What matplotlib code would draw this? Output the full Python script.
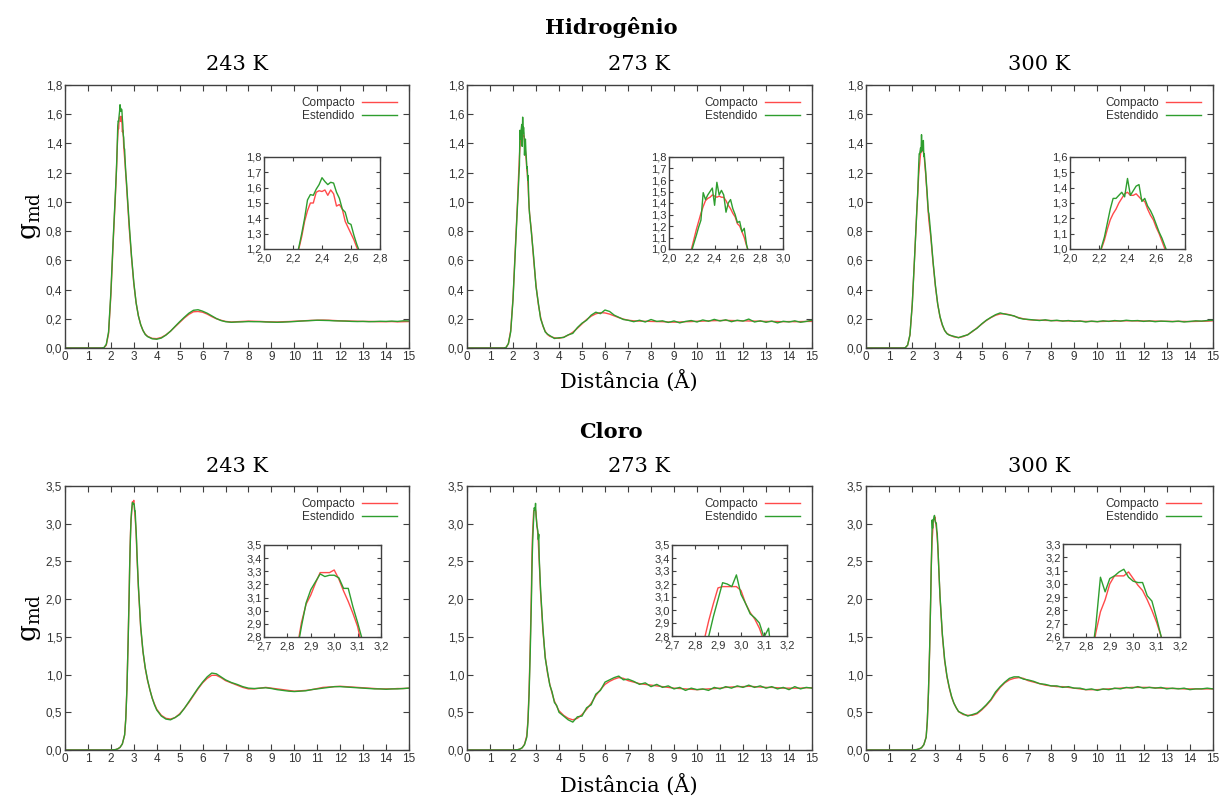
import matplotlib
matplotlib.use("Agg")
import matplotlib.pyplot as plt
from matplotlib import ticker

plt.rcParams['mathtext.fontset'] = 'dejavuserif'

# ---- distance grids (Angstrom) ----
r_h = [0.0, 1.6, 1.7, 1.8, 1.9, 2.0, 2.1, 2.2,
       2.24, 2.26, 2.28, 2.30, 2.32, 2.34, 2.36, 2.38, 2.40, 2.42, 2.44, 2.46, 2.48,
       2.50, 2.52, 2.54, 2.56, 2.58, 2.60, 2.62, 2.64, 2.66, 2.68, 2.70, 2.72,
       2.8, 2.9, 3.0, 3.1, 3.2, 3.3, 3.4, 3.5,
       3.6, 3.8, 4.0, 4.2, 4.4, 4.6, 4.8, 5.0, 5.2, 5.4, 5.6, 5.8, 6.0, 6.2, 6.4, 6.6, 6.8, 7.0,
       7.25, 7.5, 7.75, 8.0, 8.25, 8.5, 8.75, 9.0,
       9.25, 9.5, 9.75, 10.0, 10.25, 10.5, 10.75, 11.0,
       11.25, 11.5, 11.75, 12.0, 12.25, 12.5, 12.75, 13.0,
       13.25, 13.5, 13.75, 14.0, 14.25, 14.5, 14.75, 15.0]

r_cl = [0.0, 2.0, 2.2, 2.3, 2.4, 2.5, 2.6, 2.65, 2.7, 2.75, 2.8,
        2.82, 2.84, 2.86, 2.88, 2.90, 2.92, 2.94, 2.96, 2.98, 3.00, 3.02, 3.04, 3.06, 3.08,
        3.10, 3.12, 3.14,
        3.2, 3.3, 3.4, 3.5, 3.6, 3.7, 3.8, 3.9, 4.0,
        4.2, 4.4, 4.6, 4.8, 5.0, 5.2, 5.4, 5.6, 5.8, 6.0, 6.2, 6.4, 6.6, 6.8, 7.0,
        7.25, 7.5, 7.75, 8.0, 8.25, 8.5, 8.75, 9.0,
        9.25, 9.5, 9.75, 10.0, 10.25, 10.5, 10.75, 11.0,
        11.25, 11.5, 11.75, 12.0, 12.25, 12.5, 12.75, 13.0,
        13.25, 13.5, 13.75, 14.0, 14.25, 14.5, 14.75, 15.0]

# ---- Hidrogenio ----
h243_comp = [0, 0, 0.002, 0.02, 0.10, 0.36, 0.72, 1.05,
             1.20, 1.28, 1.38, 1.45, 1.50, 1.50, 1.57, 1.58, 1.575, 1.585, 1.55, 1.585, 1.56,
             1.48, 1.49, 1.46, 1.38, 1.34, 1.30, 1.26, 1.21, 1.17, 1.12, 1.07, 1.02,
             0.82, 0.62, 0.44, 0.31, 0.22, 0.16, 0.12, 0.095,
             0.08, 0.066, 0.064, 0.072, 0.09, 0.115, 0.145, 0.175, 0.205, 0.23, 0.248, 0.25,
             0.245, 0.232, 0.215, 0.20, 0.19, 0.182,
             0.178, 0.180, 0.182, 0.184, 0.183, 0.182, 0.180, 0.179,
             0.178, 0.180, 0.181, 0.183, 0.185, 0.187, 0.189, 0.190,
             0.191, 0.190, 0.188, 0.186, 0.185, 0.184, 0.183, 0.182,
             0.182, 0.181, 0.180, 0.180, 0.181, 0.179, 0.180, 0.181]
h243_est = [0, 0, 0.003, 0.025, 0.11, 0.38, 0.74, 1.07,
            1.21, 1.30, 1.40, 1.52, 1.555, 1.55, 1.59, 1.62, 1.665, 1.64, 1.62, 1.635, 1.63,
            1.57, 1.53, 1.46, 1.44, 1.37, 1.36, 1.29, 1.23, 1.18, 1.14, 1.09, 1.04,
            0.85, 0.63, 0.45, 0.31, 0.22, 0.16, 0.12, 0.092,
            0.078, 0.063, 0.060, 0.068, 0.088, 0.115, 0.148, 0.18, 0.21, 0.238, 0.258, 0.262,
            0.252, 0.238, 0.22, 0.202, 0.188, 0.18,
            0.176, 0.178, 0.179, 0.181, 0.180, 0.180, 0.178, 0.177,
            0.176, 0.177, 0.179, 0.181, 0.184, 0.186, 0.188, 0.190,
            0.189, 0.188, 0.186, 0.185, 0.184, 0.182, 0.181, 0.182,
            0.180, 0.181, 0.183, 0.182, 0.184, 0.182, 0.186, 0.185]

h273_comp = [0, 0, 0.004, 0.03, 0.12, 0.34, 0.68, 1.01,
             1.17, 1.24, 1.31, 1.37, 1.42, 1.44, 1.45, 1.47, 1.46, 1.45, 1.46, 1.45, 1.45,
             1.42, 1.38, 1.35, 1.31, 1.28, 1.22, 1.20, 1.15, 1.10, 1.03, 0.97, 0.92,
             0.80, 0.60, 0.43, 0.30, 0.21, 0.15, 0.115, 0.092,
             0.08, 0.07, 0.066, 0.074, 0.088, 0.108, 0.135, 0.165, 0.195, 0.218, 0.234, 0.242,
             0.240, 0.232, 0.220, 0.208, 0.198, 0.190,
             0.186, 0.184, 0.183, 0.182, 0.181, 0.180, 0.178, 0.177,
             0.178, 0.180, 0.181, 0.183, 0.184, 0.186, 0.187, 0.188,
             0.189, 0.188, 0.187, 0.186, 0.185, 0.184, 0.183, 0.182,
             0.182, 0.181, 0.180, 0.181, 0.180, 0.181, 0.182, 0.182]
h273_est = [0, 0, 0.004, 0.03, 0.11, 0.33, 0.66, 0.99,
            1.12, 1.19, 1.25, 1.49, 1.43, 1.47, 1.50, 1.53, 1.38, 1.58, 1.47, 1.51, 1.47,
            1.32, 1.40, 1.43, 1.35, 1.30, 1.23, 1.24, 1.15, 1.18, 1.04, 0.96, 0.92,
            0.79, 0.62, 0.42, 0.31, 0.20, 0.155, 0.11, 0.095,
            0.085, 0.065, 0.07, 0.072, 0.09, 0.10, 0.14, 0.17, 0.19, 0.225, 0.245, 0.235,
            0.26, 0.25, 0.225, 0.21, 0.195, 0.19,
            0.18, 0.19, 0.178, 0.195, 0.182, 0.186, 0.175, 0.185,
            0.172, 0.182, 0.188, 0.178, 0.192, 0.183, 0.196, 0.185,
            0.193, 0.18, 0.19, 0.184, 0.198, 0.178, 0.186, 0.176,
            0.184, 0.172, 0.183, 0.178, 0.186, 0.176, 0.182, 0.19]

h300_comp = [0, 0, 0.002, 0.02, 0.09, 0.30, 0.62, 0.95,
             1.06, 1.13, 1.19, 1.23, 1.26, 1.30, 1.33, 1.36, 1.37, 1.35, 1.35, 1.36, 1.34,
             1.32, 1.31, 1.26, 1.22, 1.19, 1.14, 1.10, 1.05, 1.00, 0.95, 0.91, 0.87,
             0.76, 0.58, 0.42, 0.30, 0.21, 0.155, 0.12, 0.10,
             0.09, 0.076, 0.072, 0.078, 0.092, 0.112, 0.138, 0.163, 0.188, 0.208, 0.224, 0.233,
             0.234, 0.228, 0.218, 0.208, 0.200, 0.194,
             0.191, 0.190, 0.189, 0.188, 0.187, 0.186, 0.185, 0.184,
             0.183, 0.182, 0.182, 0.181, 0.182, 0.183, 0.184, 0.185,
             0.186, 0.186, 0.185, 0.185, 0.184, 0.184, 0.183, 0.183,
             0.182, 0.182, 0.182, 0.181, 0.182, 0.183, 0.184, 0.186]
h300_est = [0, 0, 0.002, 0.02, 0.09, 0.30, 0.62, 0.95,
            1.08, 1.17, 1.26, 1.33, 1.33, 1.35, 1.37, 1.34, 1.46, 1.35, 1.38, 1.41, 1.42,
            1.31, 1.33, 1.28, 1.25, 1.21, 1.16, 1.11, 1.07, 1.02, 0.97, 0.93, 0.92,
            0.78, 0.59, 0.43, 0.30, 0.215, 0.16, 0.12, 0.098,
            0.088, 0.08, 0.07, 0.082, 0.09, 0.115, 0.135, 0.165, 0.19, 0.21, 0.228, 0.24,
            0.232, 0.226, 0.22, 0.205, 0.198, 0.196,
            0.192, 0.188, 0.193, 0.186, 0.19, 0.184, 0.188, 0.182,
            0.185, 0.178, 0.184, 0.18, 0.186, 0.182, 0.188, 0.184,
            0.19, 0.186, 0.188, 0.182, 0.186, 0.18, 0.184, 0.182,
            0.18, 0.184, 0.178, 0.182, 0.186, 0.184, 0.188, 0.19]

# ---- Cloro ----
cl243_comp = [0, 0, 0.005, 0.015, 0.035, 0.08, 0.20, 0.42, 0.82, 1.42, 2.12,
              2.45, 2.70, 2.91, 3.05, 3.12, 3.21, 3.29, 3.29, 3.29, 3.31, 3.24, 3.15, 3.07, 2.98,
              2.88, 2.72, 2.55,
              2.15, 1.62, 1.30, 1.08, 0.92, 0.80, 0.69, 0.61, 0.54,
              0.46, 0.42, 0.41, 0.43, 0.48, 0.55, 0.63, 0.72, 0.81, 0.89, 0.95, 0.99, 0.99, 0.96, 0.92,
              0.89, 0.86, 0.83, 0.81, 0.81, 0.82, 0.83, 0.82,
              0.81, 0.80, 0.79, 0.78, 0.785, 0.79, 0.80, 0.815,
              0.83, 0.835, 0.84, 0.845, 0.84, 0.835, 0.83, 0.825,
              0.82, 0.815, 0.81, 0.81, 0.81, 0.815, 0.815, 0.82]
cl243_est = [0, 0, 0.005, 0.015, 0.035, 0.08, 0.20, 0.41, 0.80, 1.40, 2.08,
             2.42, 2.68, 2.88, 3.06, 3.16, 3.22, 3.28, 3.26, 3.27, 3.27, 3.25, 3.17, 3.17, 3.03,
             2.91, 2.78, 2.60,
             2.18, 1.64, 1.31, 1.09, 0.93, 0.80, 0.69, 0.60, 0.53,
             0.45, 0.41, 0.40, 0.43, 0.47, 0.55, 0.64, 0.73, 0.82, 0.90, 0.97, 1.02, 1.01, 0.97, 0.93,
             0.895, 0.87, 0.84, 0.82, 0.815, 0.82, 0.825, 0.815,
             0.80, 0.79, 0.78, 0.775, 0.78, 0.785, 0.80, 0.81,
             0.82, 0.83, 0.84, 0.84, 0.835, 0.83, 0.825, 0.82,
             0.815, 0.81, 0.81, 0.805, 0.81, 0.81, 0.815, 0.82]

cl273_comp = [0, 0, 0.004, 0.012, 0.03, 0.075, 0.19, 0.40, 0.80, 1.40, 2.10,
              2.50, 2.77, 2.92, 3.05, 3.17, 3.18, 3.18, 3.18, 3.18, 3.15, 3.05, 2.98, 2.93, 2.86,
              2.76, 2.62, 2.50,
              2.08, 1.58, 1.24, 1.02, 0.87, 0.75, 0.65, 0.58, 0.52,
              0.46, 0.42, 0.40, 0.42, 0.47, 0.54, 0.62, 0.72, 0.80, 0.87, 0.91, 0.94, 0.96, 0.95, 0.92,
              0.90, 0.88, 0.87, 0.86, 0.85, 0.84, 0.83, 0.82,
              0.815, 0.81, 0.805, 0.80, 0.805, 0.81, 0.815, 0.82,
              0.83, 0.835, 0.84, 0.84, 0.845, 0.84, 0.835, 0.83,
              0.83, 0.825, 0.82, 0.82, 0.82, 0.82, 0.825, 0.825]
cl273_est = [0, 0, 0.004, 0.012, 0.03, 0.07, 0.17, 0.37, 0.74, 1.30, 1.98,
             2.32, 2.60, 2.80, 2.95, 3.08, 3.21, 3.20, 3.18, 3.27, 3.12, 3.05, 2.97, 2.94, 2.90,
             2.79, 2.86, 2.55,
             2.12, 1.62, 1.22, 1.04, 0.86, 0.77, 0.63, 0.59, 0.50,
             0.45, 0.40, 0.37, 0.44, 0.45, 0.56, 0.60, 0.74, 0.79, 0.90, 0.93, 0.96, 0.98, 0.93, 0.94,
             0.91, 0.87, 0.89, 0.84, 0.87, 0.83, 0.85, 0.81,
             0.83, 0.79, 0.82, 0.80, 0.81, 0.79, 0.83, 0.81,
             0.84, 0.82, 0.85, 0.83, 0.86, 0.83, 0.85, 0.82,
             0.84, 0.81, 0.83, 0.80, 0.84, 0.81, 0.83, 0.82]

cl300_comp = [0, 0, 0.006, 0.015, 0.03, 0.07, 0.17, 0.38, 0.76, 1.32, 2.05,
              2.40, 2.63, 2.79, 2.88, 3.00, 3.06, 3.06, 3.06, 3.09, 3.04, 2.99, 2.95, 2.88, 2.80,
              2.71, 2.60, 2.45,
              2.02, 1.52, 1.18, 0.97, 0.82, 0.70, 0.62, 0.56, 0.51,
              0.47, 0.46, 0.46, 0.48, 0.53, 0.59, 0.66, 0.75, 0.83, 0.89, 0.93, 0.95, 0.96, 0.95, 0.92,
              0.90, 0.88, 0.86, 0.85, 0.84, 0.84, 0.83, 0.82,
              0.81, 0.80, 0.80, 0.80, 0.805, 0.81, 0.815, 0.82,
              0.825, 0.83, 0.83, 0.83, 0.83, 0.825, 0.82, 0.82,
              0.815, 0.815, 0.81, 0.81, 0.81, 0.81, 0.81, 0.81]
cl300_est = [0, 0, 0.006, 0.015, 0.03, 0.07, 0.17, 0.38, 0.77, 1.33, 2.07,
             2.42, 2.68, 3.05, 2.94, 3.04, 3.06, 3.09, 3.11, 3.05, 3.02, 3.01, 3.01, 2.91, 2.87,
             2.74, 2.60, 2.45,
             2.04, 1.54, 1.20, 0.98, 0.83, 0.71, 0.62, 0.56, 0.51,
             0.48, 0.45, 0.47, 0.49, 0.54, 0.60, 0.67, 0.77, 0.84, 0.90, 0.95, 0.97, 0.97, 0.94, 0.93,
             0.91, 0.88, 0.87, 0.85, 0.85, 0.83, 0.84, 0.82,
             0.82, 0.80, 0.81, 0.79, 0.81, 0.80, 0.82, 0.81,
             0.83, 0.82, 0.84, 0.82, 0.83, 0.82, 0.83, 0.81,
             0.82, 0.81, 0.82, 0.80, 0.81, 0.81, 0.82, 0.81]

temps = ["243 K", "273 K", "300 K"]

RED = "#ff4a4a"
GREEN = "#2e9e2e"
AXCOL = "#404040"
TXTCOL = "#333333"

W, H = 1222.0, 798.0


def px_box(x0, y0, x1, y1):
    # pixel box (top-left origin) -> figure fraction rect
    return [x0 / W, (H - y1) / H, (x1 - x0) / W, (y1 - y0) / H]


def comma(fmt):
    return ticker.FuncFormatter(lambda v, p: fmt.format(v).replace(".", ","))


def style_axes(ax, fs):
    for s in ax.spines.values():
        s.set_color(AXCOL)
        s.set_linewidth(1.0)
    ax.tick_params(direction="in", top=True, right=True, colors=AXCOL,
                   labelcolor=TXTCOL, labelsize=fs, length=4, width=0.8, pad=2)
    for lab in ax.get_xticklabels() + ax.get_yticklabels():
        lab.set_family("Liberation Sans")


def panel(fig, box, inbox, r, comp, est, ymax, ystep, inx, iny, instep):
    ax = fig.add_axes(px_box(*box))
    ax.plot(r, comp, color=RED, lw=1.0, label="Compacto")
    ax.plot(r, est, color=GREEN, lw=1.0, label="Estendido")
    ax.set_xlim(0, 15)
    ax.set_ylim(0, ymax)
    ax.xaxis.set_major_locator(ticker.MultipleLocator(1))
    ax.yaxis.set_major_locator(ticker.MultipleLocator(ystep))
    ax.xaxis.set_major_formatter(comma("{:.0f}"))
    ax.yaxis.set_major_formatter(comma("{:.1f}"))
    style_axes(ax, 8.5)
    leg = ax.legend(loc="upper right", frameon=False, markerfirst=False,
                    handlelength=3.0, handletextpad=0.6, labelspacing=0.1,
                    borderaxespad=0.6, prop={"family": "Liberation Sans", "size": 8.5})
    for t in leg.get_texts():
        t.set_color(TXTCOL)

    ins = fig.add_axes(px_box(*inbox))
    ins.plot(r, comp, color=RED, lw=1.0)
    ins.plot(r, est, color=GREEN, lw=1.0)
    ins.set_xlim(*inx)
    ins.set_ylim(*iny)
    ins.xaxis.set_major_locator(ticker.MultipleLocator(instep))
    ins.yaxis.set_major_locator(ticker.MultipleLocator(0.1))
    ins.xaxis.set_major_formatter(comma("{:.1f}"))
    ins.yaxis.set_major_formatter(comma("{:.1f}"))
    style_axes(ins, 8)
    ins.tick_params(length=3)
    ins.tick_params(axis="x", pad=3)
    ins.tick_params(axis="y", pad=1.5)
    return ax


fig = plt.figure(figsize=(W / 100, H / 100), dpi=100)

col_x = [(65, 409), (467, 812), (866, 1213)]

h_data = [(h243_comp, h243_est), (h273_comp, h273_est), (h300_comp, h300_est)]
h_inbox = [(264, 157, 380, 249), (669, 157, 783, 249), (1070, 157, 1185, 249)]
h_inx = [(2.0, 2.8), (2.0, 3.0), (2.0, 2.8)]
h_iny = [(1.2, 1.8), (1.0, 1.8), (1.0, 1.6)]

cl_data = [(cl243_comp, cl243_est), (cl273_comp, cl273_est), (cl300_comp, cl300_est)]
cl_inbox = [(264, 545, 381, 637), (672, 545, 787, 636), (1063, 544, 1180, 637)]
cl_inx = [(2.7, 3.2), (2.7, 3.2), (2.7, 3.2)]
cl_iny = [(2.8, 3.5), (2.8, 3.5), (2.6, 3.3)]

serif = "DejaVu Serif"

for i in range(3):
    x0, x1 = col_x[i]
    panel(fig, (x0, 85, x1, 348), h_inbox[i], r_h, h_data[i][0], h_data[i][1],
          1.8, 0.2, h_inx[i], h_iny[i], 0.2)
    fig.text((x0 + x1) / 2 / W, 1 - 64 / H, temps[i], ha="center", va="center",
             family=serif, fontsize=15)
    panel(fig, (x0, 486, x1, 750), cl_inbox[i], r_cl, cl_data[i][0], cl_data[i][1],
          3.5, 0.5, cl_inx[i], cl_iny[i], 0.1)
    fig.text((x0 + x1) / 2 / W, 1 - 467 / H, temps[i], ha="center", va="center",
             family=serif, fontsize=15)

fig.text(0.5, 1 - 28 / H, "Hidrogênio", ha="center", va="center",
         family=serif, fontsize=15, fontweight="bold")
fig.text(0.5, 1 - 432 / H, "Cloro", ha="center", va="center",
         family=serif, fontsize=15, fontweight="bold")
fig.text(629 / W, 1 - 381 / H, "Distância (Å)", ha="center", va="center",
         family=serif, fontsize=15)
fig.text(629 / W, 1 - 785 / H, "Distância (Å)", ha="center", va="center",
         family=serif, fontsize=15)
fig.text(30 / W, 1 - 216 / H, r"$\mathrm{g}_{\mathrm{md}}$", ha="center", va="center",
         rotation=90, fontsize=19)
fig.text(30 / W, 1 - 618 / H, r"$\mathrm{g}_{\mathrm{md}}$", ha="center", va="center",
         rotation=90, fontsize=19)

plt.savefig("out.png", dpi=100)
